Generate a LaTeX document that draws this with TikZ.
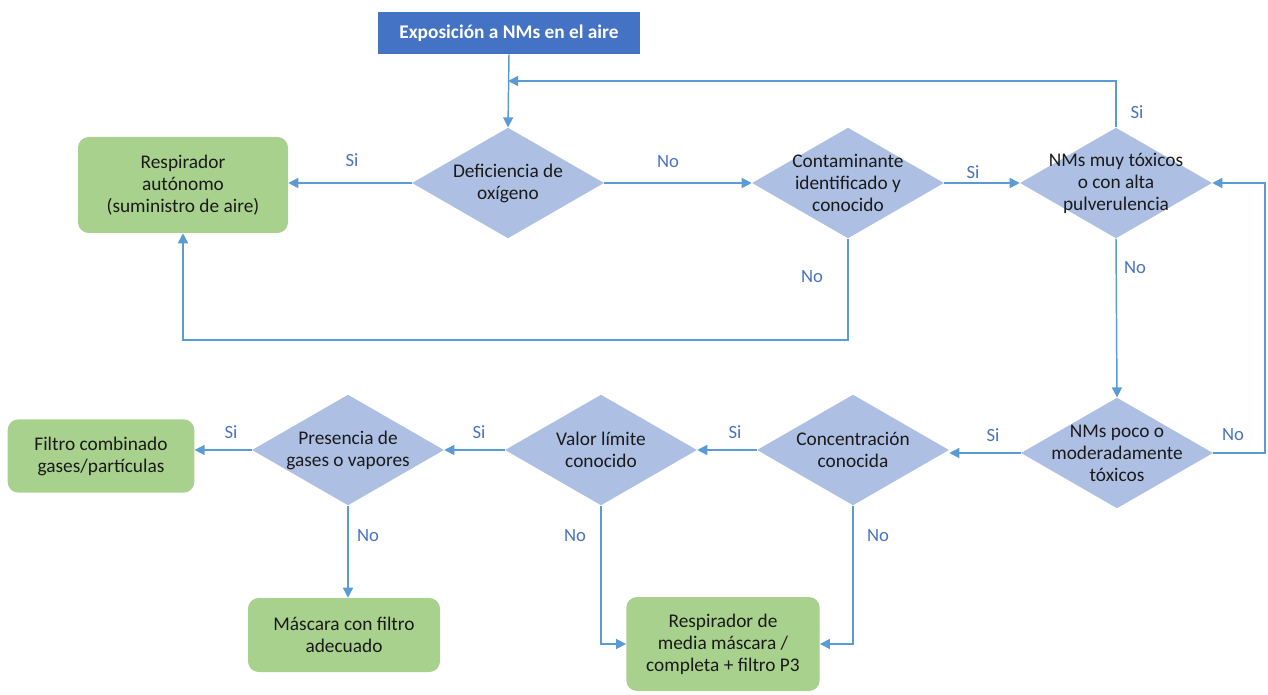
\documentclass[tikz,border=0pt]{standalone}
\usepackage{fontspec}
\setmainfont{Carlito}
\usetikzlibrary{shapes.geometric,arrows.meta}

\definecolor{topblue}{HTML}{4472C4}
\definecolor{leafgreen}{HTML}{A9D18E}
\definecolor{askblue}{HTML}{ADC0E4}
\definecolor{linkblue}{HTML}{5B9BD5}
\definecolor{tagblue}{HTML}{4A72C0}
\definecolor{ink}{HTML}{1A1A1A}

\tikzset{
  txt/.style={font=\fontsize{14.5}{16.5}\selectfont, text=ink, align=center, inner sep=0pt},
  startbox/.style={rectangle, fill=topblue, minimum width=196.5pt, minimum height=31.5pt,
    font=\fontsize{14.5}{16.5}\selectfont\bfseries, text=white},
  endbox/.style={rectangle, rounded corners=8pt, fill=leafgreen, txt},
  decision/.style={diamond, fill=askblue, minimum width=144pt, minimum height=83pt, inner sep=0pt},
  link/.style={draw=linkblue, line width=1.1pt, -{Triangle[length=7.5pt,width=7.5pt]}},
  tag/.style={font=\fontsize{14}{16}\selectfont, text=tagblue, inner sep=0pt},
}

\begin{document}
\begin{tikzpicture}[x=0.75pt,y=0.75pt,yscale=-1,xscale=1]
\path[use as bounding box] (0,0) rectangle (1268,695);

% Start Node
\node[startbox] (top) at (509,33) {Exposición a NMs en el aire};

% Decision Nodes
\node[decision, label={[txt]center:{Deficiencia de\\oxígeno}}] (D1) at (508,183) {};
\node[decision, label={[txt]center:{Contaminante\\identificado y\\conocido}}] (D2) at (848,183) {};
\node[decision, label={[txt]center:{NMs muy tóxicos\\o con alta\\pulverulencia}}] (D3) at (1116,183) {};
\node[decision, label={[txt]center:{NMs poco o\\moderadamente\\tóxicos}}] (D4) at (1117,453) {};
\node[decision, label={[txt]center:{Concentración\\conocida}}] (D5) at (853,450) {};
\node[decision, label={[txt]center:{Valor límite\\conocido}}] (D6) at (601,450) {};
\node[decision, label={[txt]center:{Presencia de\\gases o vapores}}] (D7) at (348,450) {};

% End Nodes
\node[endbox, minimum width=157.5pt, minimum height=72pt] (R1) at (183,185) {Respirador\\autónomo\\(suministro de aire)};
\node[endbox, minimum width=140pt, minimum height=55pt] (F) at (101,456) {Filtro combinado\\gases/partículas};
\node[endbox, minimum width=144pt, minimum height=55.5pt] (M) at (344,635) {Máscara con filtro\\adecuado};
\node[endbox, minimum width=145pt, minimum height=70.5pt] (R2) at (723,644) {Respirador de\\media máscara /\\completa + filtro P3};

% Helper Points
\coordinate (fb) at (508,81);
\coordinate (lp) at (848,340);
\coordinate (rt) at (1265,320);

% Connectors
\draw[link] (top.south) -- (D1.north);
\draw[link] (D3.north) |- (fb);
\draw[link] (D1.west) -- (D1.west -| R1.east);
\draw[link] (D1.east) -- (D2.west);
\draw[link] (D2.east) -- (D3.west);
\draw[link] (D2.south) -- (lp) -| (R1.south);
\draw[link] (D3.south) -- (D4.north);
\draw[link] (D4.east) -| (rt) |- (D3.east);
\draw[link] (D4.west) -- (D4.west -| D5.east);
\draw[link] (D5.west) -- (D6.east);
\draw[link] (D6.west) -- (D7.east);
\draw[link] (D7.west) -- (D7.west -| F.east);
\draw[link] (D7.south) -- (D7.south |- M.north);
\draw[link] (D6.south) |- (R2.west);
\draw[link] (D5.south) |- (R2.east);

% Branch Labels
\node[tag] (t1) at (352,160) {Si};
\node[tag] (t2) at (668,162) {No};
\node[tag] (t3) at (973,172) {Si};
\node[tag] (t4) at (1137,112) {Si};
\node[tag] (t5) at (1135,268) {No};
\node[tag] (t6) at (812,277) {No};
\node[tag] (t7) at (1233,435) {No};
\node[tag] (t8) at (993,435) {Si};
\node[tag] (t9) at (735,432) {Si};
\node[tag] (t10) at (479,432) {Si};
\node[tag] (t11) at (231,432) {Si};
\node[tag] (t12) at (368,536) {No};
\node[tag] (t13) at (575,536) {No};
\node[tag] (t14) at (878,536) {No};

\end{tikzpicture}
\end{document}
